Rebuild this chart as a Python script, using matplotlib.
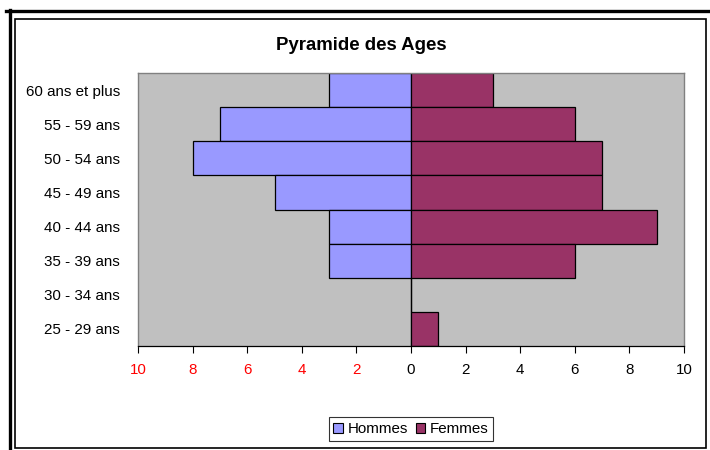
import matplotlib
matplotlib.use("Agg")
import matplotlib.pyplot as plt
from matplotlib.lines import Line2D
from matplotlib.patches import Rectangle, Patch
import numpy as np

categories = ["60 ans et plus", "55 - 59 ans", "50 - 54 ans", "45 - 49 ans",
              "40 - 44 ans", "35 - 39 ans", "30 - 34 ans", "25 - 29 ans"]
hommes = [3, 7, 8, 5, 3, 3, 0, 0]
femmes = [3, 6, 7, 7, 9, 6, 0, 1]
tick_values = [-10, -8, -6, -4, -2, 0, 2, 4, 6, 8, 10]
tick_labels = ["10", "8", "6", "4", "2", "0", "2", "4", "6", "8", "10"]

plt.rcParams['font.family'] = ['Liberation Sans', 'DejaVu Sans']

W, H = 710, 450
fig = plt.figure(figsize=(W / 100, H / 100), dpi=100)
fig.patch.set_facecolor("white")

def fx(px):
    return px / W

def fy(py):
    return 1 - py / H

# outer thick lines (left and top)
fig.add_artist(Line2D([fx(9.5), fx(9.5)], [fy(10), fy(452)], color="black", lw=2.4,
                      transform=fig.transFigure))
fig.add_artist(Line2D([fx(6), fx(712)], [fy(11), fy(11)], color="black", lw=2.4,
                      transform=fig.transFigure))
# inner frame
fig.add_artist(Rectangle((fx(15.5), fy(448)), fx(706) - fx(15.5), fy(19) - fy(448),
                         fill=False, edgecolor="black", lw=1.2, transform=fig.transFigure))

ax = fig.add_axes([fx(138), fy(346), fx(684) - fx(138), fy(73) - fy(346)])
ax.set_facecolor("#C0C0C0")

y = np.arange(len(categories))
ax.barh(y, [-v for v in hommes], height=1.0, color="#9999FF", edgecolor="black", lw=0.9,
        label="Hommes")
ax.barh(y, femmes, height=1.0, color="#993366", edgecolor="black", lw=0.9,
        label="Femmes")

ax.set_xlim(-10, 10)
ax.set_ylim(len(categories) - 0.5, -0.5)
ax.set_yticks(y)
ax.set_yticklabels(categories, fontsize=10.9)
ax.tick_params(axis="y", length=0, pad=13)
ax.set_xticks(tick_values)
ax.set_xticklabels(tick_labels, fontsize=10.9)
for lab, v in zip(ax.get_xticklabels(), tick_values):
    lab.set_color("red" if v < 0 else "black")
ax.tick_params(axis="x", direction="out", length=5, width=0.8, pad=7, color="black")

for s in ["left", "right", "top"]:
    ax.spines[s].set_color("#808080")
    ax.spines[s].set_linewidth(1.0)
ax.spines["bottom"].set_color("black")
ax.spines["bottom"].set_linewidth(0.9)

fig.text(fx(361), fy(46), "Pyramide des Ages", ha="center", va="center",
         fontsize=13.4, fontweight="bold")

handles = [Patch(facecolor="#9999FF", edgecolor="black", lw=0.8, label="Hommes"),
           Patch(facecolor="#993366", edgecolor="black", lw=0.8, label="Femmes")]
leg = fig.legend(handles=handles, loc="center", bbox_to_anchor=(fx(411), fy(429)),
                 ncol=2, fontsize=10.9, frameon=True, fancybox=False,
                 handlelength=0.65, handleheight=0.65, handletextpad=0.3,
                 columnspacing=0.5, borderpad=0.3, borderaxespad=0)
leg.get_frame().set_edgecolor("black")
leg.get_frame().set_linewidth(0.8)

fig.savefig("out.png", dpi=100)
